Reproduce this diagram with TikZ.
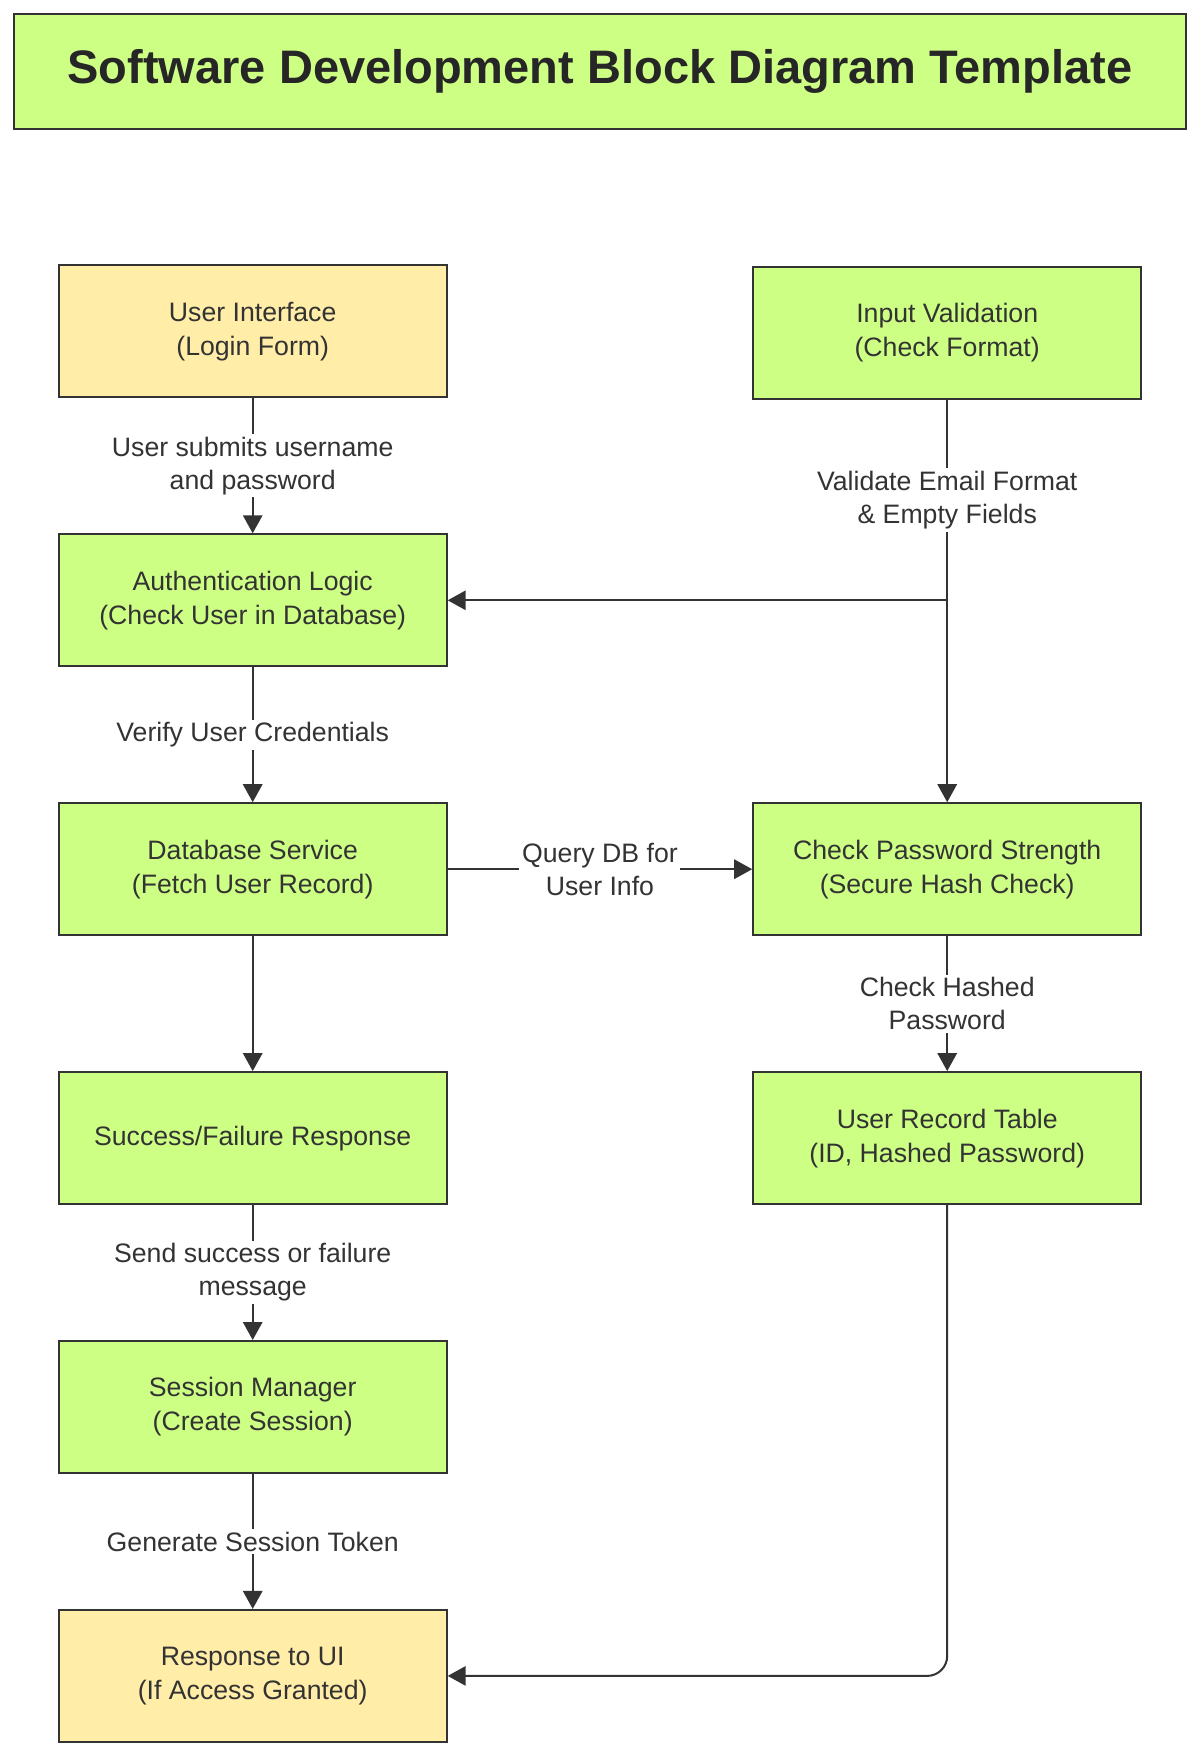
\documentclass[tikz,border=0pt]{standalone}
\usepackage{fontspec}
\setmainfont{Liberation Sans}
\usetikzlibrary{arrows.meta}
\definecolor{boxgreen}{RGB}{206,255,133}
\definecolor{boxyellow}{RGB}{255,237,168}
\definecolor{ink}{RGB}{51,51,51}
\begin{document}
\begin{tikzpicture}[x=0.75pt,y=-0.75pt,
  blk/.style={draw=ink, line width=1.5pt, minimum width=291pt, minimum height=99pt,
    align=center, font=\fontsize{20}{25.5}\selectfont, text=ink, inner sep=0pt},
  gblk/.style={blk, fill=boxgreen},
  yblk/.style={blk, fill=boxyellow},
  conn/.style={draw=ink, line width=1.5pt, -{Triangle[length=13.5pt,width=14.5pt]}},
  lbl/.style={fill=white, text=ink, font=\fontsize{20}{24.75}\selectfont, align=center, inner sep=2pt}]

\useasboundingbox (0,0) rectangle (1200,1756);
\fill[white] (0,0) rectangle (1200,1756);

\node[draw=ink, line width=1.5pt, fill=boxgreen, minimum width=879.5pt, minimum height=86.5pt,
  font=\fontsize{35.25}{40}\selectfont\bfseries, text=black!85, inner sep=0pt] (title) at (600,71.4)
  {Software Development Block Diagram Template};

\node[yblk] (ui)   at (252.7,331.4)  {User Interface\\(Login Form)};
\node[gblk] (auth) at (252.7,600.3)  {Authentication Logic\\(Check User in Database)};
\node[gblk] (db)   at (252.7,869.2)  {Database Service\\(Fetch User Record)};
\node[gblk] (succ) at (252.7,1138.1) {Success/Failure Response};
\node[gblk] (sess) at (252.7,1407.0) {Session Manager\\(Create Session)};
\node[yblk] (resp) at (252.7,1675.9) {Response to UI\\(If Access Granted)};

\node[gblk] (inp)  at (947.2,332.5)  {Input Validation\\(Check Format)};
\node[gblk] (chk)  at (947.2,869.2)  {Check Password Strength\\(Secure Hash Check)};
\node[gblk] (rec)  at (947.2,1138.1) {User Record Table\\(ID, Hashed Password)};

\draw[conn] (ui) -- node[lbl]{User submits username\\and password} (auth);
\draw[conn] (inp) -- (chk);
\draw[conn] (inp) |- node[lbl, pos=0.25]{Validate Email Format\\\& Empty Fields} (auth);
\draw[conn] (auth) -- node[lbl]{Verify User Credentials} (db);
\draw[conn] (db) -- node[lbl]{Query DB for\\User Info} (chk);
\draw[conn] (db) -- (succ);
\draw[conn] (chk) -- node[lbl]{Check Hashed\\Password} (rec);
\draw[conn] (succ) -- node[lbl]{Send success or failure\\message} (sess);
\draw[conn] (sess) -- node[lbl]{Generate Session Token} (resp);
\draw[conn, rounded corners=15pt] (rec) |- (resp);
\end{tikzpicture}
\end{document}
